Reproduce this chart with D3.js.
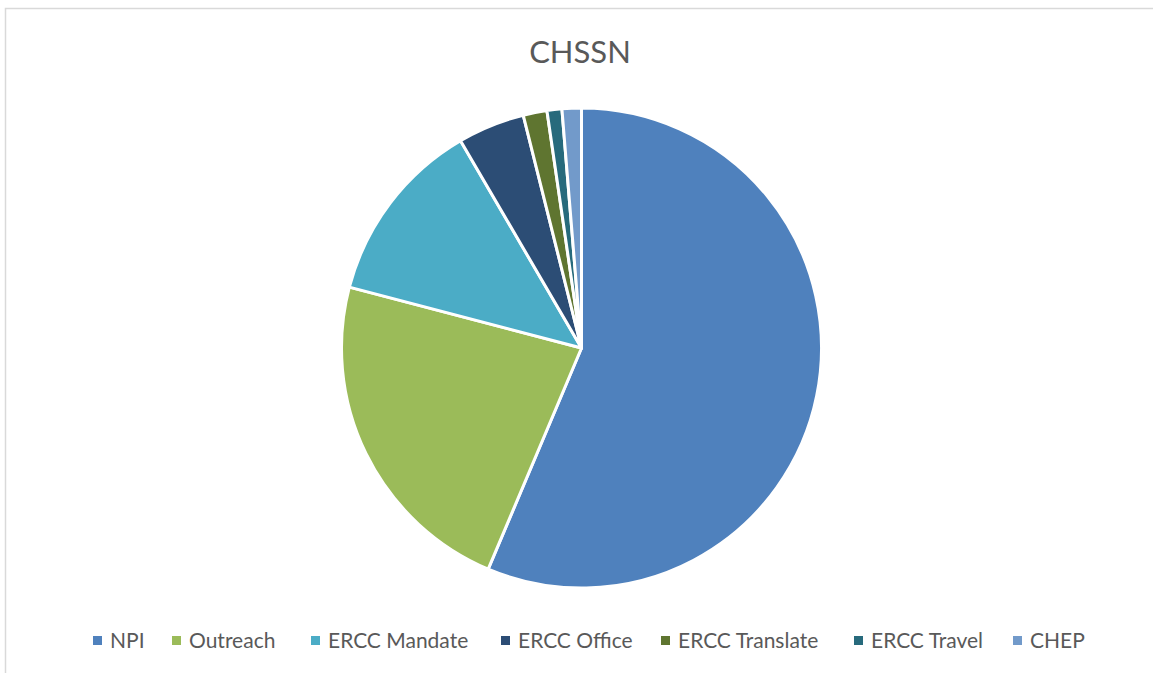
<!DOCTYPE html>
<html>
<head>
<meta charset="utf-8">
<script src="https://cdn.jsdelivr.net/npm/d3@7"></script>
<style>
  body { margin: 0; background: #fff; }
  svg { display: block; }
</style>
</head>
<body>
<svg id="chart" width="1153" height="673"></svg>
<script>
// Data (percent of total)
const categories = ["NPI", "Outreach", "ERCC Mandate", "ERCC Office", "ERCC Translate", "ERCC Travel", "CHEP"];
const shares = [56.3, 22.7, 12.5, 4.5, 1.6, 1.0, 1.3];
const colors = ["#4F81BD", "#9BBB59", "#4BACC6", "#2C4D75", "#5F7530", "#276A7C", "#729ACA"];

const chartTitle = "CHSSN";
const font_family = "Lato, 'Open Sans', sans-serif";
const font_color = "#595959";

const svg = d3.select("#chart");
const width = 1153, height = 673;

// Chart area border
svg.append("rect")
  .attr("x", 5.5)
  .attr("y", 8.5)
  .attr("width", width + 10)
  .attr("height", height + 10)
  .attr("fill", "#fff")
  .attr("stroke", "#d9d9d9")
  .attr("stroke-width", 1.5);

// Title
svg.append("text")
  .attr("x", 580)
  .attr("y", 63)
  .attr("text-anchor", "middle")
  .attr("fill", font_color)
  .attr("font-family", font_family)
  .attr("font-size", 31)
  .text(chartTitle);

// Pie
const cx = 581.5, cy = 348, radius = 240;
const data = categories.map((c, i) => ({ name: c, value: shares[i] }));

const color = d3.scaleOrdinal().domain(categories).range(colors);

const pie = d3.pie()
  .value(d => d.value)
  .sort(null);

const arc = d3.arc()
  .innerRadius(0)
  .outerRadius(radius);

const g = svg.append("g")
  .attr("transform", `translate(${cx},${cy})`);

g.selectAll("path")
  .data(pie(data))
  .enter()
  .append("path")
  .attr("d", arc)
  .attr("fill", d => color(d.data.name))
  .attr("stroke", "#fff")
  .attr("stroke-width", 3)
  .attr("stroke-linejoin", "round");

// Legend
const legendX = [93, 172, 311, 501, 661, 854, 1013];
const legendY = 641;

const legend = svg.append("g").attr("class", "legend");

const items = legend.selectAll(".legend-item")
  .data(categories)
  .enter()
  .append("g")
  .attr("class", "legend-item")
  .attr("transform", (d, i) => `translate(${legendX[i]}, ${legendY})`);

items.append("rect")
  .attr("x", 0)
  .attr("y", -5)
  .attr("width", 9)
  .attr("height", 9)
  .attr("fill", d => color(d));

items.append("text")
  .attr("x", 17)
  .attr("y", 0)
  .attr("dy", "0.35em")
  .attr("fill", font_color)
  .attr("font-family", font_family)
  .attr("font-size", 21)
  .text(d => d);
</script>
</body>
</html>
